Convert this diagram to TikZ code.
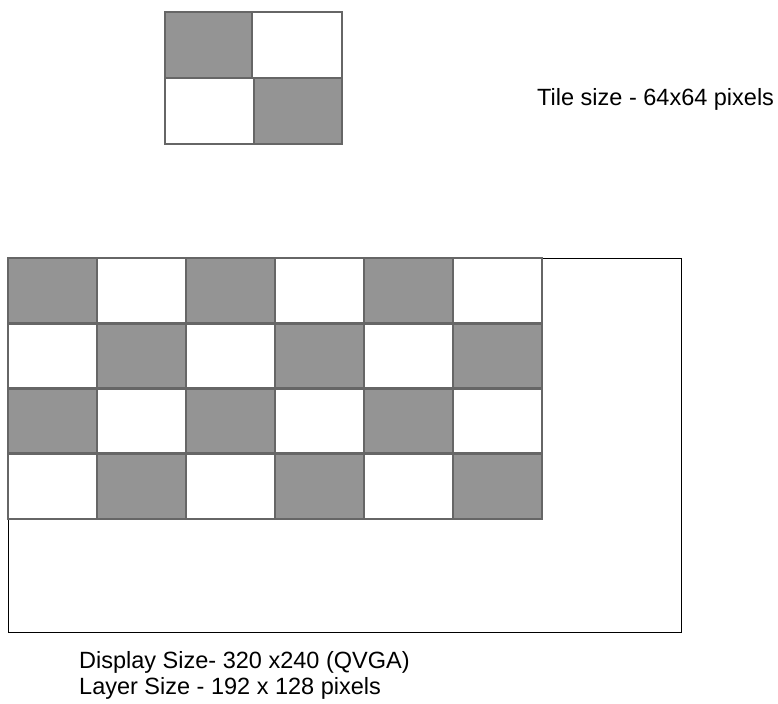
\documentclass[tikz,border=0pt]{standalone}
\usepackage{fontspec}
\setmainfont{Liberation Sans}
\definecolor{tilegray}{HTML}{949494}
\definecolor{tileedge}{HTML}{666666}
\begin{document}
\begin{tikzpicture}[x=1bp,y=-1bp,
  graycell/.style={fill=tilegray,draw=tileedge,line width=2.8bp},
  whitecell/.style={fill=white,draw=tileedge,line width=2.8bp},
  label/.style={inner sep=0pt,anchor=base west,font=\fontsize{23.5bp}{28bp}\selectfont}]
\useasboundingbox (0,0) rectangle (778,704);
% single tile
\draw[graycell] (165,12) rectangle (252,78);
\draw[whitecell] (252,12) rectangle (342,78);
\draw[whitecell] (165,78) rectangle (254,144);
\draw[graycell] (254,78) rectangle (342,144);
\node[label] (tile) at (537,106) {Tile size - 64x64 pixels};
% display
\draw[black,line width=1bp] (8,258) rectangle (681,632);
\foreach \r in {0,1,2,3}{
  \foreach \c in {0,...,5}{
    \pgfmathtruncatemacro{\myparity}{mod(\r+\c,2)}
    \ifnum\myparity=0
      \draw[graycell] ({8+\c*89},{258+\r*65.25}) rectangle ({8+(\c+1)*89},{258+(\r+1)*65.25});
    \else
      \draw[whitecell] ({8+\c*89},{258+\r*65.25}) rectangle ({8+(\c+1)*89},{258+(\r+1)*65.25});
    \fi
  }
}
\node[label] (disp) at (79,668) {Display Size- 320 x240 (QVGA)};
\node[label] (layer) at (79,694) {Layer Size - 192 x 128 pixels};
\end{tikzpicture}
\end{document}
